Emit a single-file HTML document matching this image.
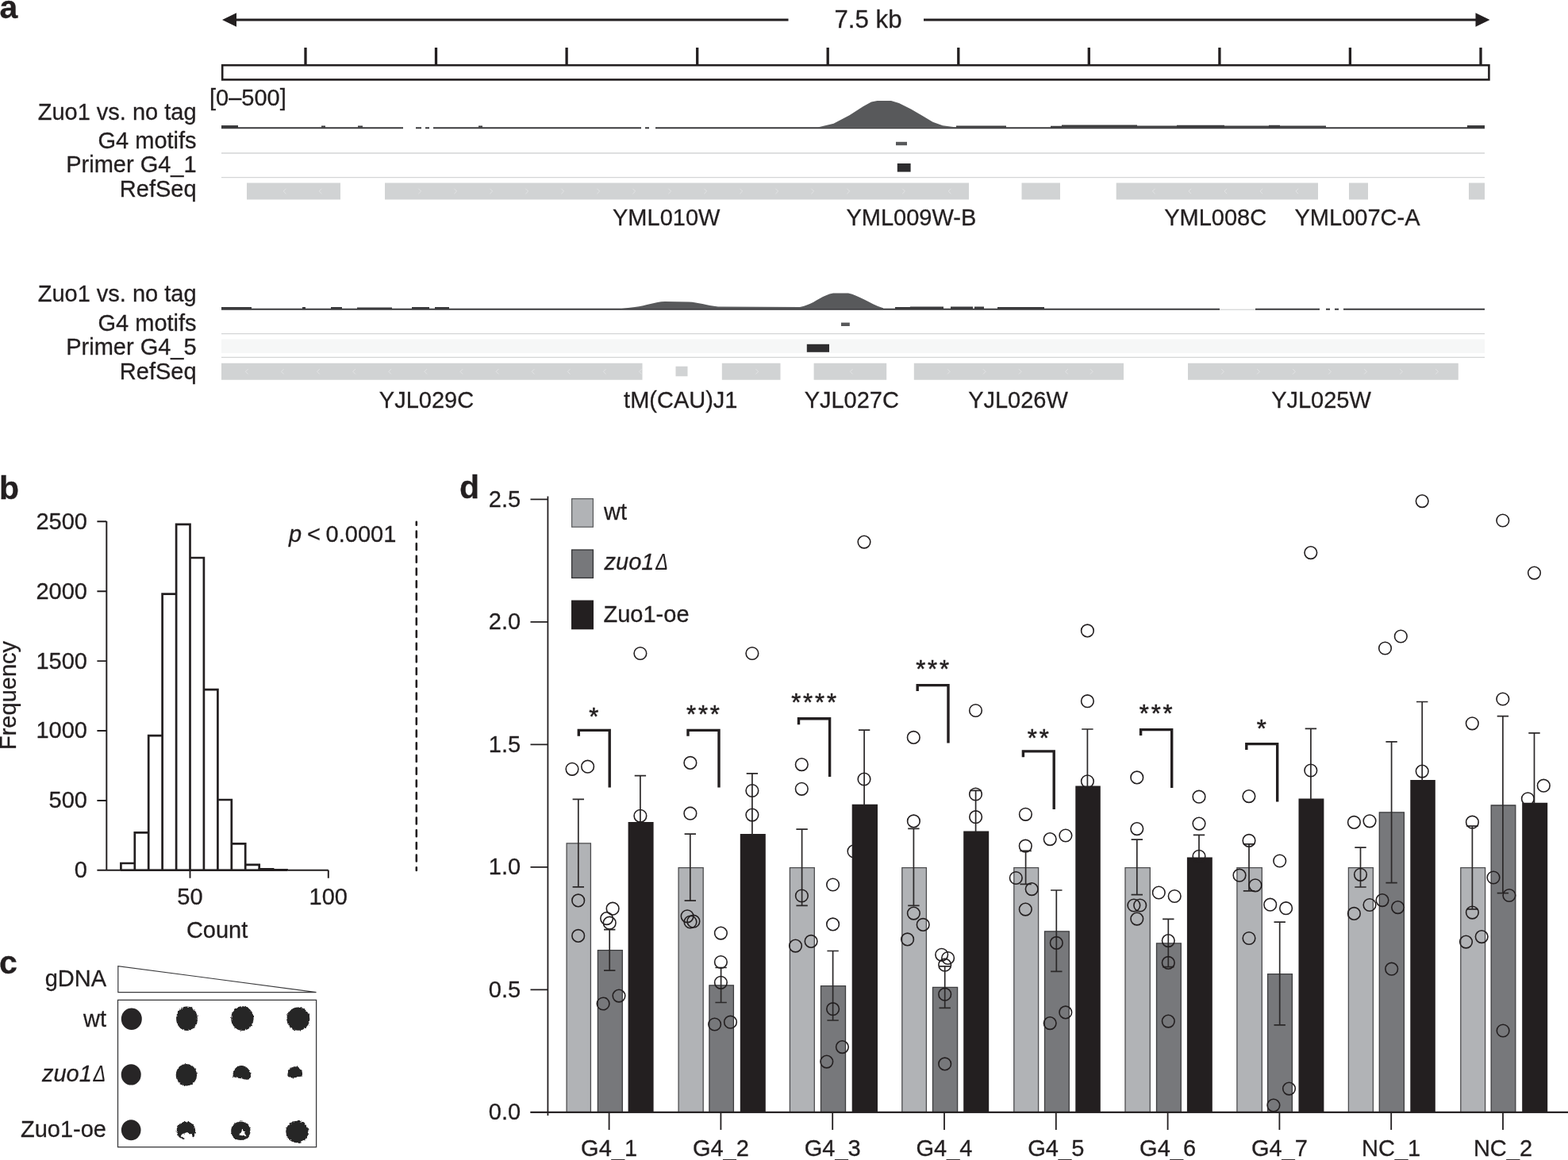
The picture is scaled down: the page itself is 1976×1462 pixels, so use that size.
<!DOCTYPE html>
<html lang="en">
<head>
<meta charset="utf-8">
<title>Figure: Zuo1 binding at G4 motifs</title>
<style>
html,body{margin:0;padding:0;background:#fff;}
body{width:1976px;height:1462px;overflow:hidden;}
svg{display:block;}
svg text{font-family:"Liberation Sans",sans-serif;fill:#231f20;stroke:#231f20;stroke-width:.3px;}
</style>
</head>
<body>
<svg width="1976" height="1462" viewBox="0 0 1976 1462" font-size="29">
<rect width="1976" height="1462" fill="#fff"/>
<g id="panel-a">
<text x="-0.4" y="22.5" font-size="41" font-weight="bold">a</text>
<path d="M297 25H993.5M1164 25H1860" stroke="#231f20" stroke-width="2.8" fill="none"/>
<path d="M280 25L298 16.2V33.8Z M1877.5 25L1859.5 16.2V33.8Z" fill="#231f20"/>
<text x="1094" y="35" text-anchor="middle" font-size="31.2">7.5 kb</text>
<rect x="280.2" y="82.2" width="1596.2" height="18.2" fill="#fff" stroke="#231f20" stroke-width="2.6"/>
<path d="M385.0 60V82M549.5 60V82M714.1 60V82M878.7 60V82M1043.2 60V82M1207.8 60V82M1372.3 60V82M1536.9 60V82M1701.4 60V82M1866.0 60V82" stroke="#231f20" stroke-width="3.3" fill="none"/>
<text x="264" y="133">[0–500]</text>
<text x="247.6" y="150.5" text-anchor="end">Zuo1 vs. no tag</text>
<text x="247.6" y="186.6" text-anchor="end">G4 motifs</text>
<text x="247.6" y="217.1" text-anchor="end">Primer G4_1</text>
<text x="247.6" y="248.0" text-anchor="end">RefSeq</text>
<path d="M279 193.0H1871M279 223.6H1871" stroke="#d4d5d6" stroke-width="1.4" fill="none"/>
<path d="M279 161.2H1871" stroke="#3a3a3c" stroke-width="2" fill="none"/>
<path d="M1030.5 160.5L1050.5 155.7L1070.5 145.2L1088 133.9L1098 128.4L1105.5 127H1123L1133 130L1148 137.6L1163 146.3L1175.5 153.8L1188 158.3L1205.5 160.5Z" fill="#58595b"/>
<path d="M279 158h21v3h-21zM405 158.6h5v2h-5zM451 158.6h6v2h-6zM603 158.6h5v2h-5zM1205 158.6h12v2h-12zM1212 158.6h56v2h-56zM1324 158.8h14v2h-14zM1338 157.6h95v3h-95zM1433 158.4h50v2h-50zM1483 157.8h60v3h-60zM1543 158.4h56v2h-56zM1599 157.8h14v3h-14zM1613 158.4h58v2h-58zM1849 158h22v3h-22z" fill="#3a3a3c"/>
<path d="M508 158h16v5h-16zM531 158h5v5h-5zM541 158h5v5h-5zM808 158h5v5h-5zM818 158h8v5h-8z" fill="#fff"/>
<rect x="1129" y="178.8" width="14" height="4.4" fill="#58595b"/>
<rect x="1130.8" y="206" width="16.8" height="10.6" fill="#2e2d2f"/>
<path d="M311 230.6H429V251.4H311ZM485 230.6H1221V251.4H485ZM1287.5 230.6H1336V251.4H1287.5ZM1406.7 230.6H1661V251.4H1406.7ZM1700 230.6H1724V251.4H1700ZM1851 230.6H1871V251.4H1851Z" fill="#d1d3d4"/>
<path d="M360.4 237.8L357.2 241L360.4 244.2M405.4 237.8L402.2 241L405.4 244.2M1198.4 237.8L1195.2 241L1198.4 244.2M1455.6 237.8L1452.4 241L1455.6 244.2M1501.1 237.8L1497.9 241L1501.1 244.2M1546.1 237.8L1542.9 241L1546.1 244.2M1591.1 237.8L1587.9 241L1591.1 244.2M1636.1 237.8L1632.9 241L1636.1 244.2" stroke="#e3e4e5" stroke-width="0.9" fill="none"/>
<path d="M527.4 237.8L530.6 241L527.4 244.2M572.4 237.8L575.6 241L572.4 244.2M617.4 237.8L620.6 241L617.4 244.2M662.4 237.8L665.6 241L662.4 244.2M707.4 237.8L710.6 241L707.4 244.2M752.4 237.8L755.6 241L752.4 244.2M797.4 237.8L800.6 241L797.4 244.2M842.4 237.8L845.6 241L842.4 244.2M887.4 237.8L890.6 241L887.4 244.2M932.4 237.8L935.6 241L932.4 244.2M977.4 237.8L980.6 241L977.4 244.2M1022.4 237.8L1025.6 241L1022.4 244.2M1067.4 237.8L1070.6 241L1067.4 244.2M1137.2 237.8L1140.4 241L1137.2 244.2" stroke="#e3e4e5" stroke-width="0.9" fill="none"/>
<text x="839.7" y="284" text-anchor="middle">YML010W</text>
<text x="1148.4" y="284" text-anchor="middle">YML009W-B</text>
<text x="1531.7" y="284" text-anchor="middle">YML008C</text>
<text x="1710.5" y="284" text-anchor="middle">YML007C-A</text>
<text x="247.6" y="380.0" text-anchor="end">Zuo1 vs. no tag</text>
<text x="247.6" y="416.5" text-anchor="end">G4 motifs</text>
<text x="247.6" y="446.5" text-anchor="end">Primer G4_5</text>
<text x="247.6" y="477.7" text-anchor="end">RefSeq</text>
<rect x="279" y="427.5" width="1592" height="17.5" fill="#f6f7f7"/>
<path d="M279 420.6H1871M279 450.4H1871" stroke="#d4d5d6" stroke-width="1.4" fill="none"/>
<path d="M279 389.7H1871" stroke="#3a3a3c" stroke-width="2" fill="none"/>
<path d="M781 389.3 L800 387 C815 385 825 380.5 838 380 L868 380.6 C880 381 890 385 905 386.5 L1008 387 C1025 384 1035 372 1050 369.4 L1069 369.4 C1082 372 1095 382 1113 388.3 L1113 389.3Z" fill="#58595b"/>
<path d="M279 387h38v3h-38zM381 387h4v3h-4zM417 387h14v3h-14zM450 387.4h44v2h-44zM519 387h22v3h-22zM548 387h18v3h-18zM1128 387h28v3h-28zM1147 386.4h42v3h-42zM1198 386.4h28v3h-28zM1228 386.4h12v3h-12zM1257 387h50v3h-50zM1302 387h14v3h-14z" fill="#3a3a3c"/>
<path d="M1537 386h45v6h-45zM1663 386h8v6h-8zM1676 386h6v6h-6zM1687 386h6v6h-6z" fill="#fff"/>
<path d="M1537 390.2H1582" stroke="#c9cacb" stroke-width="1" fill="none"/>
<rect x="1060" y="406.6" width="10.8" height="4.4" fill="#58595b"/>
<rect x="1016.8" y="433.8" width="28.2" height="10" fill="#2e2d2f"/>
<path d="M279 457.8H809.5V478.8H279ZM909.8 457.8H983.5V478.8H909.8ZM1025.6 457.8H1117.2V478.8H1025.6ZM1151.8 457.8H1416V478.8H1151.8ZM1497 457.8H1837.8V478.8H1497ZM851.5 461.8H866.5V474.2H851.5Z" fill="#d1d3d4"/>
<path d="M312.6 465.1L309.4 468.3L312.6 471.5M357.7 465.1L354.5 468.3L357.7 471.5M402.8 465.1L399.6 468.3L402.8 471.5M447.9 465.1L444.7 468.3L447.9 471.5M493.0 465.1L489.8 468.3L493.0 471.5M538.1 465.1L534.9 468.3L538.1 471.5M583.2 465.1L580.0 468.3L583.2 471.5M628.3 465.1L625.1 468.3L628.3 471.5M673.4 465.1L670.2 468.3L673.4 471.5M718.5 465.1L715.3 468.3L718.5 471.5M763.6 465.1L760.4 468.3L763.6 471.5M808.7 465.1L805.5 468.3L808.7 471.5M1074.6 465.1L1071.4 468.3L1074.6 471.5M1345.8 465.1L1342.6 468.3L1345.8 471.5" stroke="#e3e4e5" stroke-width="0.9" fill="none"/>
<path d="M952.4 465.1L955.6 468.3L952.4 471.5M1193.9 465.1L1197.1 468.3L1193.9 471.5M1238.9 465.1L1242.1 468.3L1238.9 471.5M1283.9 465.1L1287.1 468.3L1283.9 471.5M1373.9 465.1L1377.1 468.3L1373.9 471.5M1539.2 465.1L1542.4 468.3L1539.2 471.5M1584.2 465.1L1587.4 468.3L1584.2 471.5M1629.2 465.1L1632.4 468.3L1629.2 471.5M1674.2 465.1L1677.4 468.3L1674.2 471.5M1719.2 465.1L1722.4 468.3L1719.2 471.5M1764.2 465.1L1767.4 468.3L1764.2 471.5M1809.2 465.1L1812.4 468.3L1809.2 471.5" stroke="#e3e4e5" stroke-width="0.9" fill="none"/>
<text x="537.5" y="513.8" text-anchor="middle">YJL029C</text>
<text x="857.8" y="513.8" text-anchor="middle">tM(CAU)J1</text>
<text x="1073.3" y="513.8" text-anchor="middle">YJL027C</text>
<text x="1283" y="513.8" text-anchor="middle">YJL026W</text>
<text x="1665" y="513.8" text-anchor="middle">YJL025W</text>
</g>
<g id="panel-b">
<text x="-1" y="628.6" font-size="41" font-weight="bold">b</text>
<path d="M134.3 657V1096.8M122.4 1096.8H134.3M122.4 1008.9H134.3M122.4 921.0H134.3M122.4 833.1H134.3M122.4 745.2H134.3M122.4 657.3H134.3M122.4 1096.8H413.8M239.5 1096.8V1106.8M413.8 1096.8V1106.8" stroke="#231f20" stroke-width="1.95" fill="none"/>
<text x="110" y="1106.2" text-anchor="end">0</text>
<text x="110" y="1018.3" text-anchor="end">500</text>
<text x="110" y="930.4" text-anchor="end">1000</text>
<text x="110" y="842.5" text-anchor="end">1500</text>
<text x="110" y="754.6" text-anchor="end">2000</text>
<text x="110" y="666.7" text-anchor="end">2500</text>
<text x="239.5" y="1140.3" text-anchor="middle">50</text>
<text x="413.8" y="1140.3" text-anchor="middle">100</text>
<text x="273.6" y="1182.2" text-anchor="middle">Count</text>
<text transform="translate(20.3 876.5) rotate(-90)" text-anchor="middle" font-size="29">Frequency</text>
<path d="M152.4 1096.8V1088.0H169.8V1096.8M169.8 1096.8V1049.3H187.2V1096.8M187.2 1096.8V927.2H204.6V1096.8M204.6 1096.8V748.7H222.1V1096.8M222.1 1096.8V660.8H239.5V1096.8M239.5 1096.8V703.0H256.9V1096.8M256.9 1096.8V869.1H274.4V1096.8M274.4 1096.8V1008.0H291.8V1096.8M291.8 1096.8V1063.4H309.2V1096.8M309.2 1096.8V1089.8H326.7V1096.8M326.6 1096.8V1095.4H344.1V1096.8M344.1 1096.8V1096.3H361.5V1096.8" stroke="#231f20" stroke-width="2.7" fill="none" stroke-linejoin="miter"/>
<path d="M152 1096.8H362" stroke="#231f20" stroke-width="2.5" fill="none"/>
<text x="364" y="682.5" font-size="29" word-spacing="-1.3"><tspan font-style="italic">p</tspan> &lt; 0.0001</text>
<path d="M524.8 657.75V1097.05" stroke="#231f20" stroke-width="2.6" stroke-linecap="round" stroke-dasharray="7.9 7.8" stroke-dashoffset="4" fill="none"/>
</g>
<g id="panel-c">
<text x="-1" y="1227.4" font-size="41" font-weight="bold">c</text>
<text x="134" y="1243.1" text-anchor="end">gDNA</text>
<text x="134" y="1293.5" text-anchor="end">wt</text>
<text x="52.9" y="1362.7" font-style="italic">zuo1<tspan dx="1.7" textLength="15.8" lengthAdjust="spacingAndGlyphs" style="stroke-width:.1px">Δ</tspan></text>
<text x="134" y="1432.7" text-anchor="end">Zuo1-oe</text>
<path d="M148.8 1217.6V1250.6H398.5Z" fill="#fff" stroke="#3a3a3c" stroke-width="1.2" stroke-linejoin="miter"/>
<rect x="148.5" y="1260.4" width="250.1" height="185.3" fill="#fff" stroke="#3a3a3c" stroke-width="1.3"/>
<defs><filter id="rough" x="-20%" y="-20%" width="140%" height="140%"><feTurbulence type="fractalNoise" baseFrequency="0.35" numOctaves="2" seed="4" result="n"/><feDisplacementMap in="SourceGraphic" in2="n" scale="3.2" xChannelSelector="R" yChannelSelector="G"/></filter></defs>
<g fill="#272526">
<ellipse cx="165.8" cy="1284.2" rx="13.0" ry="13.8"/>
<ellipse cx="165.2" cy="1354.4" rx="12.5" ry="13.2"/>
<ellipse cx="165.2" cy="1424.2" rx="12.3" ry="13.0"/>
</g>
<g fill="#272526" filter="url(#rough)">
<ellipse cx="235.5" cy="1283.8" rx="13.4" ry="15.3"/>
<ellipse cx="305.4" cy="1283.6" rx="14.2" ry="15.3"/>
<ellipse cx="375.8" cy="1284.2" rx="14.5" ry="14.6"/>
<ellipse cx="234.9" cy="1354.7" rx="13.2" ry="13.8"/>
<ellipse cx="374.5" cy="1426.5" rx="14.2" ry="13.8"/>
<path d="M293.4 1355.5 C293.6 1347.5 299 1342.3 305 1343 C311.5 1343.8 316.5 1349.5 316 1357.5 C315.6 1361.2 311 1361.3 307 1360 C303.5 1358.8 299.5 1359.3 296.5 1358 C294.4 1357.2 293.3 1357 293.4 1355.5Z"/>
<path d="M362.4 1354.5 C363 1348 367.5 1344 372.5 1344.2 C378 1344.5 381.6 1349 381 1354.5 C380.6 1357.6 376.5 1357.4 373 1358 C369.5 1358.7 366 1358.4 364 1357.4 C362.8 1356.7 362.2 1356 362.4 1354.5Z"/>
<path d="M222.6 1425.4 C222.6 1418.6 228 1413.6 234.5 1413.6 C241 1413.6 246.2 1418.6 246.2 1425.2 C246.2 1428.6 245 1431.4 243.2 1433.4 C242.6 1431 241.4 1429.4 239.4 1429 C237.6 1426.6 234.6 1427 232.6 1428.6 C230.4 1428.4 228.4 1430 228 1432 C229.6 1433.2 232 1433.6 232.6 1436.2 C226.8 1435.2 222.6 1431 222.6 1425.4Z"/>
<path d="M291.2 1425.4 C291.2 1418.6 296.6 1413.4 303.3 1413.4 C310 1413.4 315.6 1418.6 315.6 1425.4 C315.6 1432 310.2 1437 303.3 1437 C296.6 1437 291.2 1432 291.2 1425.4Z M301.2 1430.6 L310.6 1432.2 L307.8 1427.2 L305.6 1422.8 L303.4 1427Z" fill-rule="evenodd"/>
</g>
</g>
</g>
<g id="panel-d">
<text x="579" y="628.2" font-size="41" font-weight="bold">d</text>
<path d="M690.4 625.5V1406M668.5 1401.8H1976M668.5 1247.3H690.4M668.5 1092.8H690.4M668.5 938.3H690.4M668.5 783.8H690.4M668.5 629.3H690.4M767.6 1401.8V1424M908.4 1401.8V1424M1049.2 1401.8V1424M1190.0 1401.8V1424M1330.8 1401.8V1424M1471.6 1401.8V1424M1612.4 1401.8V1424M1753.2 1401.8V1424M1894.0 1401.8V1424" stroke="#231f20" stroke-width="1.8" fill="none"/>
<text x="656.2" y="1411.2" text-anchor="end">0.0</text>
<text x="656.2" y="1256.7" text-anchor="end">0.5</text>
<text x="656.2" y="1102.2" text-anchor="end">1.0</text>
<text x="656.2" y="947.7" text-anchor="end">1.5</text>
<text x="656.2" y="793.2" text-anchor="end">2.0</text>
<text x="656.2" y="638.7" text-anchor="end">2.5</text>
<text x="767.6" y="1457" text-anchor="middle">G4_1</text>
<text x="908.4" y="1457" text-anchor="middle">G4_2</text>
<text x="1049.2" y="1457" text-anchor="middle">G4_3</text>
<text x="1190.0" y="1457" text-anchor="middle">G4_4</text>
<text x="1330.8" y="1457" text-anchor="middle">G4_5</text>
<text x="1471.6" y="1457" text-anchor="middle">G4_6</text>
<text x="1612.4" y="1457" text-anchor="middle">G4_7</text>
<text x="1753.2" y="1457" text-anchor="middle">NC_1</text>
<text x="1894.0" y="1457" text-anchor="middle">NC_2</text>
<rect x="720.6" y="628.6" width="26.8" height="35.6" fill="#b1b3b6" stroke="#58595b" stroke-width="1.2"/>
<rect x="720.6" y="693" width="26.8" height="35.4" fill="#77787b" stroke="#333335" stroke-width="1.3"/>
<rect x="720" y="756.5" width="28" height="36.8" fill="#231f20"/>
<text x="761" y="655.3">wt</text>
<text x="761.6" y="718.0" font-style="italic">zuo1<tspan dx="1.7" textLength="15.8" lengthAdjust="spacingAndGlyphs" style="stroke-width:.1px">Δ</tspan></text>
<text x="760.5" y="783.6">Zuo1-oe</text>
<g fill="#fff" stroke="#231f20" stroke-width="1.5">
<circle cx="1076.0" cy="1072.9" r="7.8"/>
</g>
<path d="M714.1 1401.8V1062.8H744.4V1401.8ZM855.1 1401.8V1093.6H886.2V1401.8ZM995.4 1401.8V1093.6H1026.3V1401.8ZM1136.8 1401.8V1093.6H1167.4V1401.8ZM1277.8 1401.8V1093.6H1308.6V1401.8ZM1418.0 1401.8V1093.6H1449.3V1401.8ZM1558.9 1401.8V1093.6H1590.3V1401.8ZM1699.4 1401.8V1093.6H1730.4V1401.8ZM1840.8 1401.8V1093.6H1871.6V1401.8Z" fill="#b1b3b6" stroke="#4d4d4f" stroke-width="1.3"/>
<path d="M753.4 1401.8V1197.6H784.3V1401.8ZM893.9 1401.8V1241.8H924.4V1401.8ZM1034.5 1401.8V1242.7H1065.5V1401.8ZM1175.5 1401.8V1244.4H1206.6V1401.8ZM1316.5 1401.8V1173.8H1347.3V1401.8ZM1457.5 1401.8V1188.9H1488.3V1401.8ZM1597.6 1401.8V1227.6H1628.4V1401.8ZM1738.3 1401.8V1023.8H1769.4V1401.8ZM1879.2 1401.8V1015.0H1909.8V1401.8Z" fill="#77787b" stroke="#3d3d3f" stroke-width="1.3"/>
<path d="M791.6 1401.8V1035.9H823.6V1401.8ZM932.8 1401.8V1051.0H964.8V1401.8ZM1073.7 1401.8V1013.8H1106.0V1401.8ZM1214.2 1401.8V1047.6H1246.2V1401.8ZM1355.3 1401.8V990.6H1386.8V1401.8ZM1495.9 1401.8V1080.5H1527.8V1401.8ZM1636.5 1401.8V1006.4H1668.4V1401.8ZM1777.3 1401.8V983.0H1808.8V1401.8ZM1918.2 1401.8V1011.8H1950.2V1401.8Z" fill="#231f20"/>
<path d="M668.5 1401.8H1976" stroke="#231f20" stroke-width="1.9" fill="none"/>
<path d="M721.6 1007.4H736.0M728.8 1007.4V1117.8M721.6 1117.8H736.0M761.0 1171.6H775.4M768.2 1171.6V1223.2M761.0 1223.2H775.4M799.7 977.7H814.1M806.9 977.7V1036.9M862.6 1051.2H877.0M869.8 1051.2V1135.1M862.6 1135.1H877.0M901.4 1219.5H915.8M908.6 1219.5V1263.5M901.4 1263.5H915.8M940.7 974.8H955.1M947.9 974.8V1052.0M1003.4 1045.1H1017.8M1010.6 1045.1V1141.3M1003.4 1141.3H1017.8M1042.4 1198.5H1056.8M1049.6 1198.5V1286.0M1042.4 1286.0H1056.8M1081.9 920.2H1096.3M1089.1 920.2V1014.8M1144.2 1044.4H1158.6M1151.4 1044.4V1141.3M1144.2 1141.3H1158.6M1183.5 1217.9H1197.9M1190.7 1217.9V1270.3M1183.5 1270.3H1197.9M1222.4 996.3H1236.8M1229.6 996.3V1048.6M1285.4 1072.3H1299.8M1292.6 1072.3V1114.4M1285.4 1114.4H1299.8M1324.1 1122.0H1338.5M1331.3 1122.0V1224.3M1324.1 1224.3H1338.5M1363.2 919.0H1377.6M1370.4 919.0V991.6M1425.6 1058.2H1440.0M1432.8 1058.2V1127.6M1425.6 1127.6H1440.0M1465.1 1158.4H1479.5M1472.3 1158.4V1218.7M1465.1 1218.7H1479.5M1503.8 1052.4H1518.2M1511.0 1052.4V1081.5M1566.8 1063.9H1581.2M1574.0 1063.9V1122.8M1566.8 1122.8H1581.2M1605.5 1162.1H1619.9M1612.7 1162.1V1291.9M1605.5 1291.9H1619.9M1644.7 918.4H1659.1M1651.9 918.4V1007.4M1707.3 1068.1H1721.7M1714.5 1068.1V1118.0M1707.3 1118.0H1721.7M1746.4 934.8H1760.8M1753.6 934.8V1112.7M1746.4 1112.7H1760.8M1785.0 884.5H1799.4M1792.2 884.5V984.0M1848.2 1041.2H1862.6M1855.4 1041.2V1145.9M1848.2 1145.9H1862.6M1886.7 902.6H1901.1M1893.9 902.6V1125.7M1886.7 1125.7H1901.1M1926.3 923.9H1940.7M1933.5 923.9V1012.8" stroke="#2b2829" stroke-width="1.7" fill="none"/>
<g fill="none" stroke="#231f20" stroke-width="1.6">
<circle cx="721.0" cy="969.3" r="7.8"/>
<circle cx="740.6" cy="966.2" r="7.8"/>
<circle cx="728.7" cy="1134.9" r="7.8"/>
<circle cx="728.7" cy="1179.4" r="7.8"/>
<circle cx="772.1" cy="1145.2" r="7.8"/>
<circle cx="764.6" cy="1157.6" r="7.8"/>
<circle cx="768.2" cy="1163.2" r="7.8"/>
<circle cx="780.0" cy="1255.1" r="7.8"/>
<circle cx="760.1" cy="1265.0" r="7.8"/>
<circle cx="806.9" cy="823.5" r="7.8"/>
<circle cx="806.9" cy="1028.3" r="7.8"/>
<circle cx="869.9" cy="961.4" r="7.8"/>
<circle cx="869.9" cy="1025.2" r="7.8"/>
<circle cx="866.1" cy="1154.8" r="7.8"/>
<circle cx="870.0" cy="1162.0" r="7.8"/>
<circle cx="873.9" cy="1161.2" r="7.8"/>
<circle cx="908.4" cy="1176.1" r="7.8"/>
<circle cx="908.4" cy="1212.5" r="7.8"/>
<circle cx="908.4" cy="1238.3" r="7.8"/>
<circle cx="900.6" cy="1291.0" r="7.8"/>
<circle cx="920.5" cy="1288.2" r="7.8"/>
<circle cx="947.9" cy="823.5" r="7.8"/>
<circle cx="947.9" cy="996.5" r="7.8"/>
<circle cx="947.9" cy="1027.1" r="7.8"/>
<circle cx="1010.3" cy="963.6" r="7.8"/>
<circle cx="1010.3" cy="994.3" r="7.8"/>
<circle cx="1010.4" cy="1129.0" r="7.8"/>
<circle cx="1002.5" cy="1192.1" r="7.8"/>
<circle cx="1022.1" cy="1186.4" r="7.8"/>
<circle cx="1049.6" cy="1115.0" r="7.8"/>
<circle cx="1049.6" cy="1164.9" r="7.8"/>
<circle cx="1049.6" cy="1271.7" r="7.8"/>
<circle cx="1061.4" cy="1319.6" r="7.8"/>
<circle cx="1041.8" cy="1338.1" r="7.8"/>
<circle cx="1089.0" cy="683.1" r="7.8"/>
<circle cx="1089.0" cy="982.0" r="7.8"/>
<circle cx="1151.3" cy="929.4" r="7.8"/>
<circle cx="1151.4" cy="1034.9" r="7.8"/>
<circle cx="1151.4" cy="1151.1" r="7.8"/>
<circle cx="1163.2" cy="1165.4" r="7.8"/>
<circle cx="1143.6" cy="1183.9" r="7.8"/>
<circle cx="1186.7" cy="1203.3" r="7.8"/>
<circle cx="1194.6" cy="1207.5" r="7.8"/>
<circle cx="1190.7" cy="1216.2" r="7.8"/>
<circle cx="1190.7" cy="1253.2" r="7.8"/>
<circle cx="1190.7" cy="1340.9" r="7.8"/>
<circle cx="1229.5" cy="895.5" r="7.8"/>
<circle cx="1229.5" cy="1001.0" r="7.8"/>
<circle cx="1229.6" cy="1029.7" r="7.8"/>
<circle cx="1292.4" cy="1026.3" r="7.8"/>
<circle cx="1292.3" cy="1066.2" r="7.8"/>
<circle cx="1280.3" cy="1106.5" r="7.8"/>
<circle cx="1300.2" cy="1120.6" r="7.8"/>
<circle cx="1292.3" cy="1146.1" r="7.8"/>
<circle cx="1323.2" cy="1057.6" r="7.8"/>
<circle cx="1342.9" cy="1053.0" r="7.8"/>
<circle cx="1331.3" cy="1188.4" r="7.8"/>
<circle cx="1342.8" cy="1275.9" r="7.8"/>
<circle cx="1323.2" cy="1289.6" r="7.8"/>
<circle cx="1370.4" cy="794.9" r="7.8"/>
<circle cx="1370.4" cy="883.7" r="7.8"/>
<circle cx="1370.4" cy="984.8" r="7.8"/>
<circle cx="1432.8" cy="979.9" r="7.8"/>
<circle cx="1432.8" cy="1044.6" r="7.8"/>
<circle cx="1428.9" cy="1141.0" r="7.8"/>
<circle cx="1436.7" cy="1141.0" r="7.8"/>
<circle cx="1432.8" cy="1158.1" r="7.8"/>
<circle cx="1460.3" cy="1125.0" r="7.8"/>
<circle cx="1480.2" cy="1129.5" r="7.8"/>
<circle cx="1472.3" cy="1185.6" r="7.8"/>
<circle cx="1472.3" cy="1213.4" r="7.8"/>
<circle cx="1472.3" cy="1287.1" r="7.8"/>
<circle cx="1511.0" cy="1004.2" r="7.8"/>
<circle cx="1511.0" cy="1038.1" r="7.8"/>
<circle cx="1511.0" cy="1079.3" r="7.8"/>
<circle cx="1573.9" cy="1003.6" r="7.8"/>
<circle cx="1574.0" cy="1059.4" r="7.8"/>
<circle cx="1562.0" cy="1103.2" r="7.8"/>
<circle cx="1581.9" cy="1115.8" r="7.8"/>
<circle cx="1574.0" cy="1182.5" r="7.8"/>
<circle cx="1612.7" cy="1085.0" r="7.8"/>
<circle cx="1600.7" cy="1140.2" r="7.8"/>
<circle cx="1620.6" cy="1144.7" r="7.8"/>
<circle cx="1624.5" cy="1372.1" r="7.8"/>
<circle cx="1604.9" cy="1393.1" r="7.8"/>
<circle cx="1651.8" cy="696.6" r="7.8"/>
<circle cx="1651.8" cy="971.0" r="7.8"/>
<circle cx="1706.4" cy="1036.4" r="7.8"/>
<circle cx="1726.0" cy="1034.8" r="7.8"/>
<circle cx="1714.5" cy="1102.3" r="7.8"/>
<circle cx="1726.0" cy="1140.5" r="7.8"/>
<circle cx="1706.4" cy="1151.4" r="7.8"/>
<circle cx="1742.0" cy="1134.6" r="7.8"/>
<circle cx="1761.6" cy="1143.6" r="7.8"/>
<circle cx="1753.7" cy="1221.2" r="7.8"/>
<circle cx="1765.3" cy="802.0" r="7.8"/>
<circle cx="1745.5" cy="817.0" r="7.8"/>
<circle cx="1792.2" cy="631.6" r="7.8"/>
<circle cx="1792.2" cy="972.1" r="7.8"/>
<circle cx="1855.4" cy="1036.2" r="7.8"/>
<circle cx="1855.4" cy="1150.1" r="7.8"/>
<circle cx="1867.2" cy="1180.6" r="7.8"/>
<circle cx="1847.5" cy="1187.1" r="7.8"/>
<circle cx="1855.3" cy="911.8" r="7.8"/>
<circle cx="1882.0" cy="1106.0" r="7.8"/>
<circle cx="1901.9" cy="1128.5" r="7.8"/>
<circle cx="1894.1" cy="1299.0" r="7.8"/>
<circle cx="1893.8" cy="656.0" r="7.8"/>
<circle cx="1893.8" cy="881.0" r="7.8"/>
<circle cx="1933.5" cy="722.1" r="7.8"/>
<circle cx="1945.3" cy="990.2" r="7.8"/>
<circle cx="1925.4" cy="1006.8" r="7.8"/>
</g>
<path d="M729.3 927.8V920.4H768.2V992.6M867.0 927.8V920.4H906.0V992.6M1006.5 913.2V905.8H1045.6V979.1M1156.2 871.0V863.6H1195.0V936.6M1289.4 954.3V946.9H1328.2V1019.9M1437.6 927.0V919.6H1476.7V992.9M1570.8 945.0V937.6H1609.7V1010.4" stroke="#231f20" stroke-width="3.4" fill="none" stroke-linejoin="miter"/>
<text x="749.6" y="914.3" text-anchor="middle" font-size="31" letter-spacing="2.85" style="stroke-width:.55px">*</text>
<text x="887.4" y="910.5" text-anchor="middle" font-size="31" letter-spacing="2.85" style="stroke-width:.55px">***</text>
<text x="1027.0" y="896.3" text-anchor="middle" font-size="31" letter-spacing="2.85" style="stroke-width:.55px">****</text>
<text x="1176.5" y="854.4" text-anchor="middle" font-size="31" letter-spacing="2.85" style="stroke-width:.55px">***</text>
<text x="1309.7" y="941.4" text-anchor="middle" font-size="31" letter-spacing="2.85" style="stroke-width:.55px">**</text>
<text x="1458.1" y="910.1" text-anchor="middle" font-size="31" letter-spacing="2.85" style="stroke-width:.55px">***</text>
<text x="1591.2" y="928.7" text-anchor="middle" font-size="31" letter-spacing="2.85" style="stroke-width:.55px">*</text>
</g>
</svg>
</body>
</html>
